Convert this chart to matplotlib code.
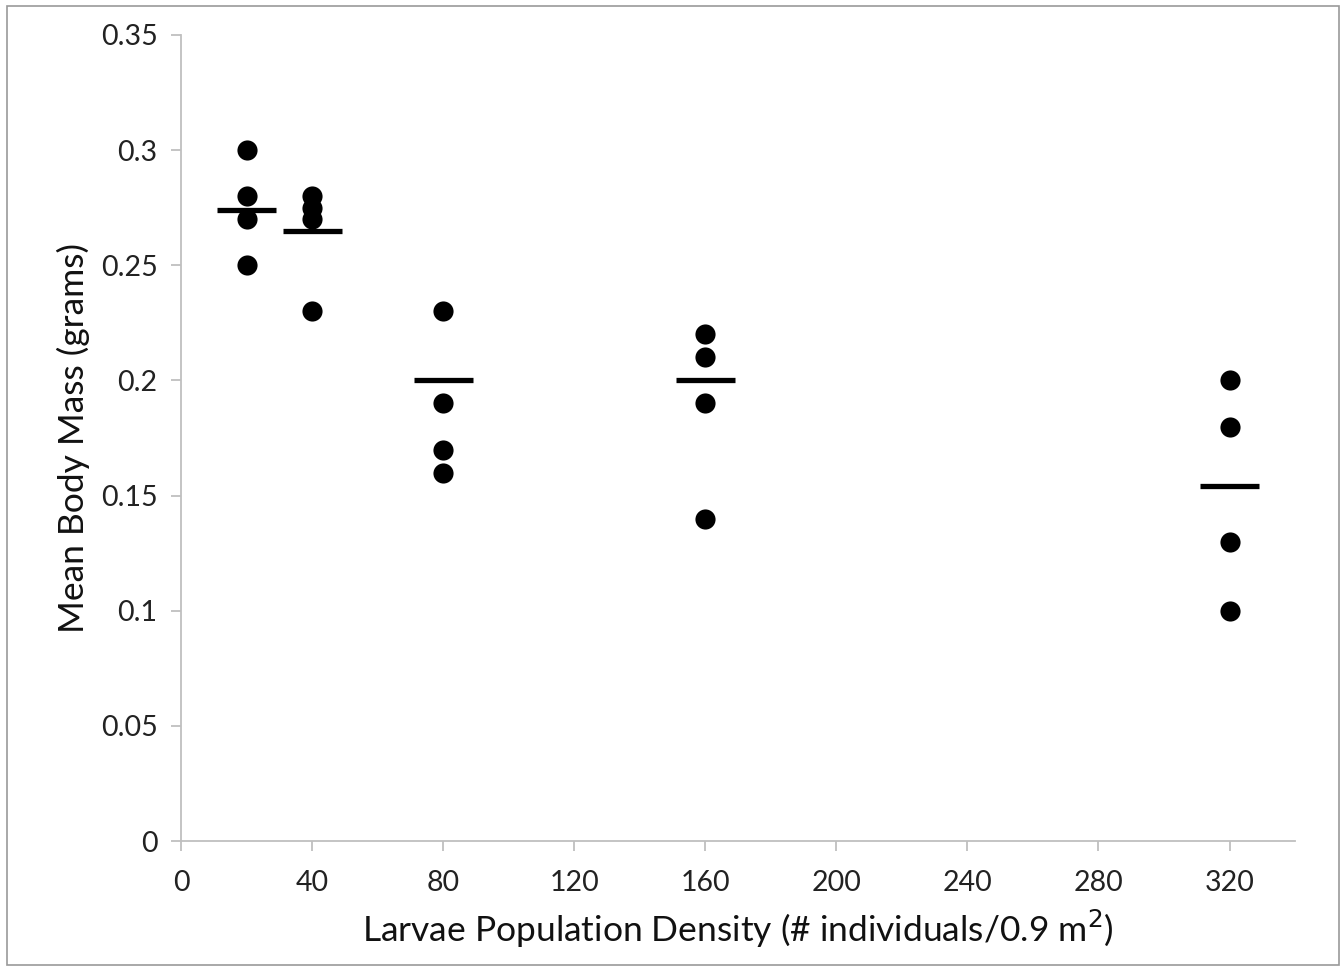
import matplotlib
matplotlib.use("Agg")
import matplotlib.pyplot as plt
from matplotlib.patches import Rectangle
import numpy as np

# density groups and individual replicate masses (g)
density = [20, 40, 80, 160, 320]
mass = [
    [0.30, 0.28, 0.27, 0.25],
    [0.28, 0.275, 0.27, 0.23],
    [0.23, 0.19, 0.17, 0.16],
    [0.22, 0.21, 0.19, 0.14],
    [0.20, 0.18, 0.13, 0.10],
]
# horizontal bars
bar_level = [0.274, 0.265, 0.2, 0.2, 0.154]

x_ticks = [0, 40, 80, 120, 160, 200, 240, 280, 320]
y_ticks = [0, 0.05, 0.1, 0.15, 0.2, 0.25, 0.3, 0.35]
y_tick_labels = ["0", "0.05", "0.1", "0.15", "0.2", "0.25", "0.3", "0.35"]

plt.rcParams['font.family'] = ['Lato', 'DejaVu Sans']

fig = plt.figure(figsize=(13.42, 9.69), dpi=100)
ax = fig.add_axes([0.1349, 0.132, 0.8301, 0.8319])

for d, vals in zip(density, mass):
    ax.plot([d] * len(vals), vals, 'o', color='black', markersize=14.5, markeredgewidth=0)

half = 9
for d, b in zip(density, bar_level):
    ax.hlines(b, d - half, d + half, color='black', linewidth=3.8)

ax.set_xlim(0, 340)
ax.set_ylim(0, 0.35)
ax.set_xticks(x_ticks)
ax.set_yticks(y_ticks)
ax.set_yticklabels(y_tick_labels)

gray = '#bfbfbf'
for s in ['top', 'right']:
    ax.spines[s].set_visible(False)
for s in ['left', 'bottom']:
    ax.spines[s].set_color(gray)
    ax.spines[s].set_linewidth(1.3)
ax.tick_params(axis='both', direction='out', length=7, width=1.3, color=gray,
               labelsize=20.5, labelcolor='#222222')
ax.tick_params(axis='x', pad=14)
ax.tick_params(axis='y', pad=10)

ax.set_xlabel('Larvae Population Density (# individuals/0.9 m$^2$)', fontsize=25.5,
              labelpad=8, color='#111111')
ax.set_ylabel('Mean Body Mass (grams)', fontsize=25.5, labelpad=8, color='#111111')

fig.patches.append(Rectangle((0.005, 0.004), 0.993, 0.99, transform=fig.transFigure,
                             fill=False, edgecolor='#999999', linewidth=1.2))

fig.savefig('out.png', dpi=100)
